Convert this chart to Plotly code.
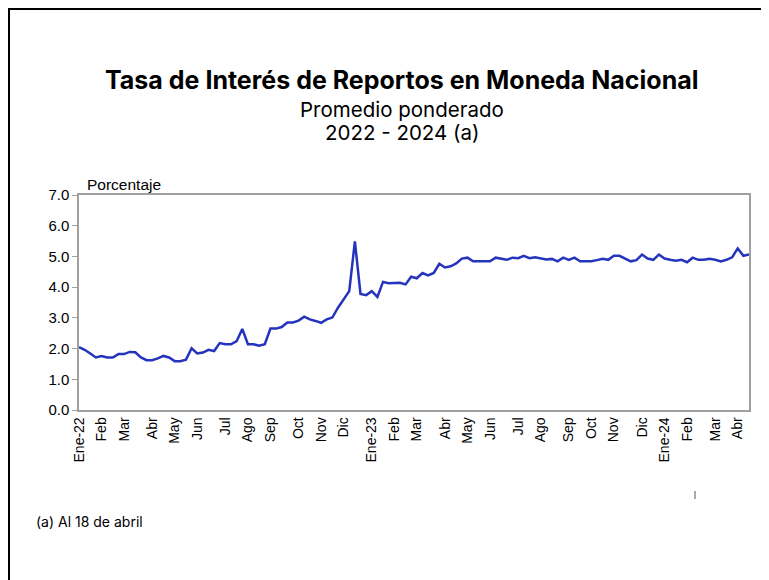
import plotly.graph_objects as go

values = [
    2.05, 1.96, 1.84, 1.71, 1.76, 1.71, 1.71, 1.82, 1.82, 1.89,
    1.88, 1.71, 1.62, 1.62, 1.68, 1.76, 1.71, 1.59, 1.59, 1.64,
    2.01, 1.84, 1.87, 1.96, 1.92, 2.18, 2.14, 2.14, 2.24, 2.64,
    2.14, 2.14, 2.09, 2.14, 2.65, 2.65, 2.70, 2.85, 2.85, 2.91,
    3.04, 2.95, 2.90, 2.84, 2.95, 3.01, 3.33, 3.60, 3.87, 5.49,
    3.78, 3.74, 3.87, 3.68, 4.17, 4.13, 4.13, 4.14, 4.09, 4.34,
    4.29, 4.46, 4.38, 4.46, 4.76, 4.64, 4.68, 4.77, 4.93, 4.96,
    4.84, 4.84, 4.84, 4.84, 4.96, 4.93, 4.89, 4.96, 4.94, 5.02,
    4.94, 4.97, 4.94, 4.90, 4.92, 4.84, 4.96, 4.89, 4.96, 4.84,
    4.84, 4.84, 4.88, 4.92, 4.89, 5.02, 5.02, 4.93, 4.84, 4.88,
    5.06, 4.93, 4.89, 5.06, 4.93, 4.89, 4.86, 4.89, 4.81, 4.96,
    4.89, 4.89, 4.92, 4.89, 4.84, 4.89, 4.97, 5.26, 5.02, 5.06,
]
week_index = list(range(len(values)))

tick_positions = [0, 4, 8, 13, 17, 21, 26, 30, 34, 39, 43, 47,
                  52, 56, 60, 65, 69, 73, 78, 82, 87, 91, 95, 100,
                  104, 108, 113, 117]
tick_labels = ["Ene-22", "Feb", "Mar", "Abr", "May", "Jun", "Jul", "Ago", "Sep", "Oct", "Nov", "Dic",
               "Ene-23", "Feb", "Mar", "Abr", "May", "Jun", "Jul", "Ago", "Sep", "Oct", "Nov", "Dic",
               "Ene-24", "Feb", "Mar", "Abr"]
y_ticks = [0, 1, 2, 3, 4, 5, 6, 7]
y_tick_labels = ["0.0", "1.0", "2.0", "3.0", "4.0", "5.0", "6.0", "7.0"]

# The page places the figure at an 8px offset; positions below are screen pixels.
OFF = 8
W, H = 769, 580
l, r, t, b = 79 - OFF, W - (749 - OFF), 195 - OFF, H - (410 - OFF)
pw, ph = W - l - r, H - t - b

def px(xs):
    return (xs - OFF - l) / pw

def py(ys):
    return (H - b - (ys - OFF)) / ph

fig = go.Figure()
fig.add_trace(go.Scatter(
    x=week_index, y=values, mode="lines",
    line=dict(color="#2434BC", width=2.5),
    hoverinfo="y", showlegend=False,
))

fig.update_layout(
    width=W, height=H,
    margin=dict(l=l, r=r, t=t, b=b),
    paper_bgcolor="white", plot_bgcolor="white",
    xaxis=dict(
        range=[0, len(values) - 1],
        tickmode="array", tickvals=tick_positions, ticktext=tick_labels,
        tickangle=-90,
        tickfont=dict(family="Liberation Sans, Arial, sans-serif", size=14, color="#000000"),
        showgrid=False, zeroline=False,
        showline=True, linecolor="#A0A0A0", linewidth=1.5, mirror=True,
        ticks="", ticklen=0,
    ),
    yaxis=dict(
        range=[0, 7],
        tickmode="array", tickvals=y_ticks, ticktext=y_tick_labels,
        tickfont=dict(family="Liberation Sans, Arial, sans-serif", size=15, color="#000000"),
        showgrid=False, zeroline=False,
        showline=True, linecolor="#A0A0A0", linewidth=1.5, mirror=True,
        ticks="outside", ticklen=5, tickcolor="#A0A0A0", tickwidth=1,
    ),
)

title_font = "Inter, Lato, sans-serif"
fig.add_annotation(text="<b>Tasa de Interés de Reportos en Moneda Nacional</b>",
                   x=px(402), y=py(80), xref="paper", yref="paper", showarrow=False,
                   xanchor="center", yanchor="middle",
                   font=dict(family=title_font, size=25, color="#000000"))
fig.add_annotation(text="Promedio ponderado",
                   x=px(402), y=py(110), xref="paper", yref="paper", showarrow=False,
                   xanchor="center", yanchor="middle",
                   font=dict(family=title_font, size=20.5, color="#000000"))
fig.add_annotation(text="2022 - 2024 (a)",
                   x=px(402), y=py(132), xref="paper", yref="paper", showarrow=False,
                   xanchor="center", yanchor="middle",
                   font=dict(family=title_font, size=20.5, color="#000000"))
fig.add_annotation(text="Porcentaje",
                   x=px(85), y=py(184), xref="paper", yref="paper", showarrow=False,
                   xanchor="left", yanchor="middle",
                   font=dict(family="Liberation Sans, Arial, sans-serif", size=15.5, color="#000000"))
fig.add_annotation(text="(a) Al 18 de abril",
                   x=px(34), y=py(521), xref="paper", yref="paper", showarrow=False,
                   xanchor="left", yanchor="middle",
                   font=dict(family=title_font, size=14, color="#000000"))

# Outer frame (left and top edges) and small stray mark
fig.add_shape(type="line", xref="paper", yref="paper",
              x0=px(9), x1=px(9), y0=py(8), y1=py(600),
              line=dict(color="#000000", width=2))
fig.add_shape(type="line", xref="paper", yref="paper",
              x0=px(8), x1=px(800), y0=py(9), y1=py(9),
              line=dict(color="#000000", width=2))
fig.add_shape(type="line", xref="paper", yref="paper",
              x0=px(695), x1=px(695), y0=py(491), y1=py(499),
              line=dict(color="#555555", width=1))

fig.write_html("out.html")
